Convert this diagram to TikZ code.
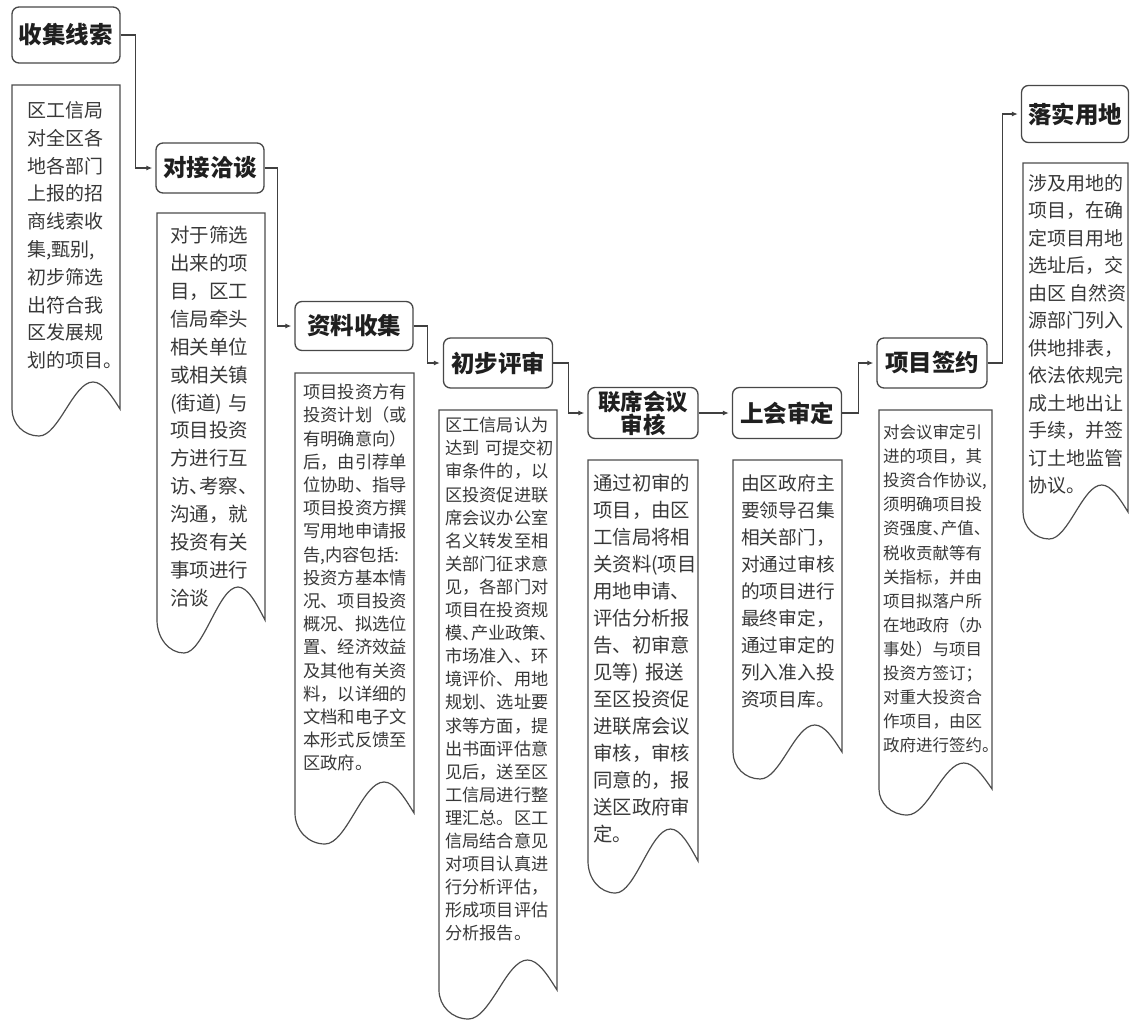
\documentclass[tikz,border=0pt]{standalone}
\usepackage{fontspec}
\setmainfont{Noto Sans CJK SC}
\usepackage{tikz}
\usetikzlibrary{positioning}
\usetikzlibrary{shapes,arrows,calc,arrows.meta}
\setlength{\parindent}{0pt}

% half width punctuation
\newcommand{\hw}[1]{{\addfontfeature{RawFeature=+halt}#1}}

\tikzset{
  stage/.style={draw=black!72, line width=1.3pt, rounded corners=7pt, fill=white,
    minimum width=108pt, minimum height=50pt, inner sep=0pt,
    font=\fontsize{23.5}{26}\selectfont\bfseries, text=black!88},
  note/.style={anchor=north west, inner sep=0pt, text width=130pt, align=left,
    text=black!78, execute at begin node=\strut},
  wave/.style={draw=black!70, line width=1.2pt},
  link/.style={draw=black!75, line width=1.2pt, -{Latex[length=6pt,width=5pt]}, shorten >=3pt}
}

\begin{document}
\begin{tikzpicture}[x=1pt,y=-1pt]
  \useasboundingbox (0,0) rectangle (1130,1021);

  % Draw stage boxes
  \node[stage, minimum height=56pt] (collect) at (66,35) {收集线索};
  \node[stage] (negotiate) at (210,168) {对接洽谈};
  \node[stage, minimum width=118pt, minimum height=49pt] (material) at (354,326) {资料收集};
  \node[stage, minimum width=109pt] (prereview) at (498,363) {初步评审};
  \node[stage, minimum width=110pt, minimum height=51pt, align=center,
    font=\fontsize{22.5}{22}\selectfont\bfseries] (joint) at (643,413) {联席会议\\审核};
  \node[stage, minimum width=109pt, minimum height=51pt] (decide) at (787,413) {上会审定};
  \node[stage, minimum width=110pt] (sign) at (932,363) {项目签约};
  \node[stage, minimum width=107pt, minimum height=57pt] (land) at (1075,114) {落实用地};

  % Draw connectors
  \draw[link] (collect.east) -- ++(15,0) |- (negotiate.west);
  \draw[link] (negotiate.east) -- ++(13,0) |- (material.west);
  \draw[link] (material.east) -- ++(14,0) |- (prereview.west);
  \draw[link] (prereview.east) -- ++(15,0) |- (joint.west);
  \draw[link] (joint) -- (decide);
  \draw[link] (decide.east) -- ++(16,0) |- (sign.west);
  \draw[link] (sign.east) -- ++(15,0) |- (land.west);

  % Draw note outlines with wavy bottom
  \draw[wave] (12,409) -- (12,85) -- (120,85) -- (120,409) sin (93,382) cos (66,409) sin (39,436) .. controls (24,436) and (12,424) .. (12,409) -- cycle;
  \draw[wave] (157,620) -- (157,213) -- (265,213) -- (265,620) sin (238,587) cos (211,620) sin (184,653) .. controls (169,653) and (157,638) .. (157,620) -- cycle;
  \draw[wave] (295,813) -- (295,373) -- (414,373) -- (414,813) sin (384,782) cos (354.5,813) sin (325,844) .. controls (308,844) and (295,830) .. (295,813) -- cycle;
  \draw[wave] (439,990) -- (439,410) -- (557,410) -- (557,990) sin (527.5,960) cos (498,990) sin (468.5,1019) .. controls (452,1019) and (439,1006) .. (439,990) -- cycle;
  \draw[wave] (588,861) -- (588,460) -- (698,460) -- (698,861) sin (670.5,829) cos (643,861) sin (615.5,893) .. controls (600,893) and (588,879) .. (588,861) -- cycle;
  \draw[wave] (733,752) -- (733,460) -- (842,460) -- (842,752) sin (814.75,725) cos (787.5,752) sin (760.25,779) .. controls (745,779) and (733,767) .. (733,752) -- cycle;
  \draw[wave] (879,789) -- (879,410) -- (992,410) -- (992,789) sin (963.75,763) cos (935.5,789) sin (907.25,815) .. controls (891,815) and (879,803) .. (879,789) -- cycle;
  \draw[wave] (1023,512) -- (1023,163) -- (1128,163) -- (1128,512) sin (1101.75,485) cos (1075.5,512) sin (1049.25,539) .. controls (1035,539) and (1023,527) .. (1023,512) -- cycle;

  % Add note texts
  \node[note, font=\fontsize{19}{27.8}\selectfont] (collectnote) at (27,97.8)
    {区工信局\\对全区各\\地各部门\\上报的招\\商线索收\\集,甄别,\\初步筛选\\出符合我\\区发展规\\划的项目\hw{。}};
  \node[note, font=\fontsize{19.5}{27.9}\selectfont] (negotiatenote) at (170,222.9)
    {对于筛选\\出来的项\\目，区工\\信局牵头\\相关单位\\或相关镇\\(街道) 与\\项目投资\\方进行互\\访\hw{、}考察\hw{、}\\沟通，就\\投资有关\\事项进行\\洽谈};
  \node[note, font=\fontsize{17.3}{23.2}\selectfont] (materialnote) at (303,382.3)
    {项目投资方有\\投资计划（或\\有明确意向）\\后，由引荐单\\位协助、指导\\项目投资方撰\\写用地申请报\\告,内容包括:\\投资方基本情\\况、项目投资\\概况、拟选位\\置、经济效益\\及其他有关资\\料，以详细的\\文档和电子文\\本形式反馈至\\区政府。};
  \node[note, font=\fontsize{17.2}{23.1}\selectfont] (prereviewnote) at (445,415.4)
    {区工信局认为\\达到 可提交初\\审条件的，以\\区投资促进联\\席会议办公室\\名义转发至相\\关部门征求意\\见，各部门对\\项目在投资规\\模\hw{、}产业政策\hw{、}\\市场准入、环\\境评价、用地\\规划、选址要\\求等方面，提\\出书面评估意\\见后，送至区\\工信局进行整\\理汇总。区工\\信局结合意见\\对项目认真进\\行分析评估，\\形成项目评估\\分析报告。};
  \node[note, font=\fontsize{19.4}{27}\selectfont] (jointnote) at (593,471.6)
    {通过初审的\\项目，由区\\工信局将相\\关资料(项目\\用地申请、\\评估分析报\\告、初审意\\见等) 报送\\至区投资促\\进联席会议\\审核，审核\\同意的，报\\送区政府审\\定。};
  \node[note, font=\fontsize{18.7}{27}\selectfont] (decidenote) at (741,471.2)
    {由区政府主\\要领导召集\\相关部门，\\对通过审核\\的项目进行\\最终审定，\\通过审定的\\列入准入投\\资项目库。};
  \node[note, font=\fontsize{16.5}{24.1}\selectfont] (signnote) at (883,421.5)
    {对会议审定引\\进的项目，其\\投资合作协议,\\须明确项目投\\资强度\hw{、}产值\hw{、}\\税收贡献等有\\关指标，并由\\项目拟落户所\\在地政府（办\\事处）与项目\\投资方签订；\\对重大投资合\\作项目，由区\\政府进行签约\hw{。}};
  \node[note, font=\fontsize{19}{27.5}\selectfont] (landnote) at (1028,171)
    {涉及用地的\\项目，在确\\定项目用地\\选址后，交\\由区\,自然资\\源部门列入\\供地排表，\\依法依规完\\成土地出让\\手续，并签\\订土地监管\\协议。};
\end{tikzpicture}
\end{document}
